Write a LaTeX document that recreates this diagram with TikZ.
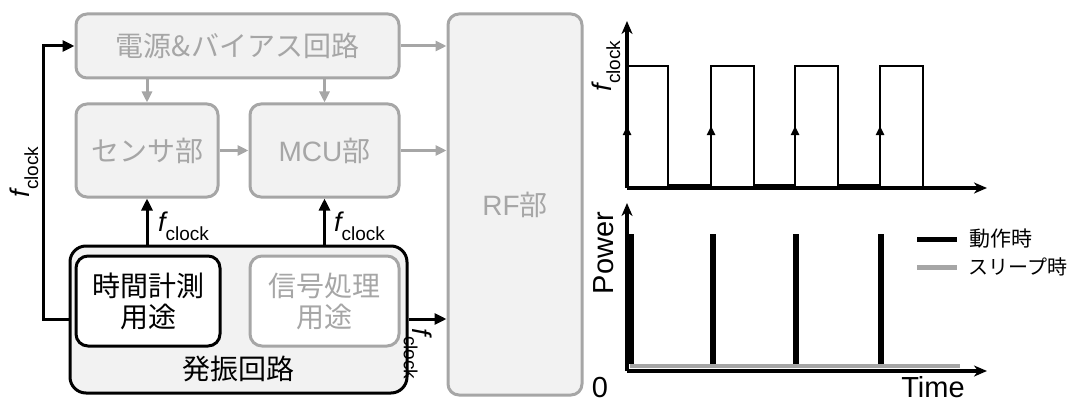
\documentclass[tikz,border=0pt]{standalone}
\usepackage{fontspec}
\setmainfont{Liberation Sans}
\newfontfamily\jp{Noto Sans CJK JP}
\usetikzlibrary{arrows.meta}
\definecolor{gline}{HTML}{A6A6A6}
\definecolor{gfill}{HTML}{F2F2F2}
\newcommand{\fck}{{\itshape f}\raisebox{-0.32em}{\fontsize{19}{19}\selectfont clock}}
\tikzset{
  gbox/.style={draw=gline, fill=gfill, line width=3pt, rounded corners=11pt, inner sep=0pt, text=gline, font=\fontsize{28}{32}\selectfont},
  kbox/.style={draw=black, fill=white, line width=3pt, rounded corners=12pt, inner sep=0pt, align=center, font=\jp\fontsize{28}{34}\selectfont},
  garrow/.style={draw=gline, line width=3pt, -{Triangle[length=11pt,width=10pt]}},
  karrow/.style={draw=black, line width=3pt, -{Triangle[length=12pt,width=11pt]}},
  axis/.style={line width=4pt, -{Stealth[length=13pt,width=11pt,inset=4pt]}},
  lbl/.style={font=\fontsize{27}{27}\selectfont, inner sep=0pt},
  big/.style={font=\fontsize{29}{29}\selectfont, inner sep=0pt},
  legtxt/.style={anchor=west, font=\jp\fontsize{20}{20}\selectfont, inner sep=0pt},
}
\begin{document}
\begin{tikzpicture}[x=1pt,y=-1pt]
\useasboundingbox (0,0) rectangle (1070,401);
% block diagram
\node[gbox, minimum width=323pt, minimum height=64pt] (pwr) at (237.5,46) {\jp 電源\&バイアス回路};
\node[gbox, minimum width=142pt, minimum height=93pt] (sen) at (147,150.5) {\jp センサ部};
\node[gbox, minimum width=149pt, minimum height=93pt] (mcu) at (324.5,150.5) {MCU{\jp 部}};
\node[gbox, minimum width=134pt, minimum height=381pt] (rf) at (515,204.5) {RF{\jp 部}};
\node[gbox, draw=black, rounded corners=16pt, minimum width=337pt, minimum height=147pt] (osc) at (238.5,319.5) {};
\node[kbox, minimum width=144pt, minimum height=90pt] (tm) at (148,301) {時間計測\\[-3pt]用途};
\node[kbox, draw=gline, text=gline, minimum width=149pt, minimum height=90pt] (sig) at (324.5,301) {信号処理\\[-3pt]用途};
\node[font=\jp\fontsize{28}{28}\selectfont, inner sep=0pt] (osclbl) at (238,369) {発振回路};
% gray arrows
\draw[garrow] (pwr.south -| sen) -- (sen.north);
\draw[garrow] (pwr.south -| mcu) -- (mcu.north);
\draw[garrow] (sen.east) -- (mcu.west);
\draw[garrow] (pwr.east) -- (pwr.east -| rf.west);
\draw[garrow] (mcu.east) -- (mcu.east -| rf.west);
% black arrows
\draw[karrow] (osc.north -| sen) -- (sen.south);
\draw[karrow] (osc.north -| mcu) -- (mcu.south);
\coordinate (fbb) at (43,319);
\draw[karrow] (osc.west |- fbb) -- (fbb) |- (pwr.west);
\draw[karrow] (osc.east |- fbb) -- (rf.west |- fbb);
\node[lbl, rotate=90] (l1) at (24,172) {\fck};
\node[lbl, anchor=west] (l2) at (158,226) {\fck};
\node[lbl, anchor=west] (l3) at (334,226) {\fck};
\node[lbl, rotate=-90] (l4) at (418,354) {\fck};
% top chart
\draw[line width=2.5pt, line join=miter] (627,186) -- (627,66) -- (668,66) -- (668,185) -- (711,185) -- (711,66) -- (754,66) -- (754,185) -- (795,185) -- (795,66) -- (838,66) -- (838,185) -- (880,185) -- (880,66) -- (923,66) -- (923,186);
\foreach \x in {627,711,795,880}
  \draw[line width=2.5pt, -{Triangle[length=9pt,width=8pt]}] (\x,150) -- (\x,126);
\coordinate (o1) at (627,188);
\draw[axis] (o1) -- (987,188);
\draw[axis] (o1) -- (627,21);
\node[lbl, rotate=90] (yl1) at (606,66) {\fck};
% bottom chart
\draw[gline, line width=4pt] (630,366) -- (960,366);
\foreach \x in {631,713,796,881}
  \draw[line width=6.5pt] (\x,364) -- (\x,234);
\coordinate (o2) at (627,371);
\draw[axis] (o2) -- (987,371);
\draw[axis] (o2) -- (627,203);
\node[big, rotate=90] (pw) at (604,253) {Power};
\node[big, anchor=base] (zero) at (600,397) {0};
\node[big, anchor=base] (time) at (933,397) {Time};
% legend
\coordinate (lg1a) at (917,239); \coordinate (lg1b) at (957,239);
\coordinate (lg2a) at (917,267); \coordinate (lg2b) at (957,267);
\draw[line width=5pt] (lg1a) -- (lg1b);
\draw[gline, line width=5pt] (lg2a) -- (lg2b);
\node[legtxt, font=\jp\fontsize{21}{21}\selectfont] (leg1) at (969,239) {動作時};
\node[legtxt] (leg2) at (968,267) {スリープ時};
\end{tikzpicture}
\end{document}
